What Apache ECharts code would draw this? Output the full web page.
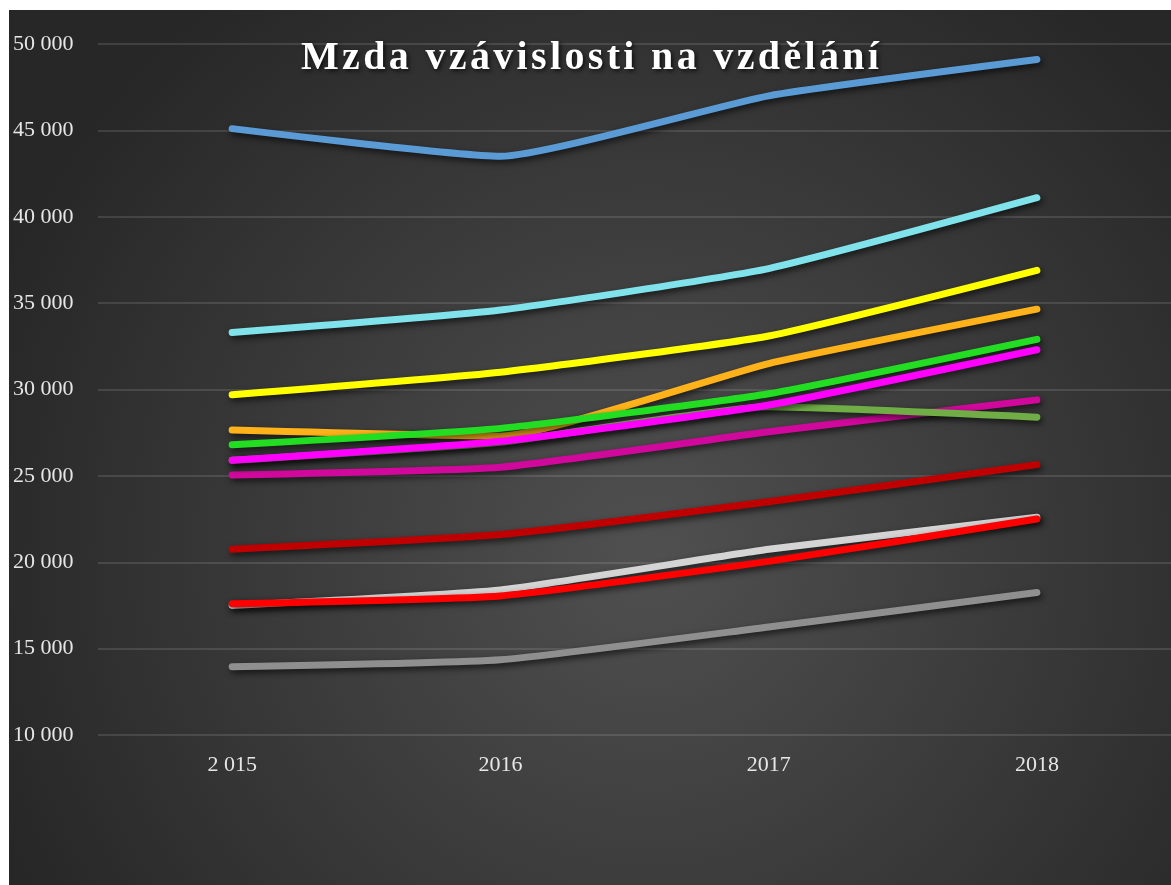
<!DOCTYPE html>
<html>
<head>
<meta charset="utf-8">
<script src="https://cdn.jsdelivr.net/npm/echarts@6/dist/echarts.min.js"></script>
<style>
  html, body { margin: 0; padding: 0; background: #ffffff; }
  #chart { position: absolute; left: 9px; top: 10px; width: 1162px; height: 875px; }
</style>
</head>
<body>
<div id="chart"></div>
<script>
const years = ["2 015", "2016", "2017", "2018"];

const blueVals = [45100, 43500, 47000, 49100];
const cyanVals = [33300, 34600, 37000, 41100];
const yellowVals = [29700, 31000, 33100, 36900];
const orangeVals = [27650, 27300, 31500, 34650];
const greenVals = [26800, 27750, 29750, 32900];
const darkMagentaVals = [25050, 25500, 27550, 29400];
const oliveVals = [25900, 26950, 29000, 28400];
const magentaVals = [25900, 27000, 29100, 32300];
const darkRedVals = [20750, 21600, 23500, 25650];
const lightGrayVals = [17500, 18400, 20750, 22600];
const redVals = [17600, 18050, 20050, 22500];
const grayVals = [13950, 14350, 16250, 18250];

const lines = [
  { data: blueVals, color: "#5b9bd5" },
  { data: cyanVals, color: "#80e2ea" },
  { data: yellowVals, color: "#ffff00" },
  { data: orangeVals, color: "#ffb21a" },
  { data: greenVals, color: "#22dd22" },
  { data: darkMagentaVals, color: "#d0089c" },
  { data: oliveVals, color: "#70ad47" },
  { data: magentaVals, color: "#ff00ff" },
  { data: darkRedVals, color: "#c00000" },
  { data: lightGrayVals, color: "#d4d4d4" },
  { data: redVals, color: "#ff0000" },
  { data: grayVals, color: "#8f8f8f" },
];

const chart = echarts.init(document.getElementById("chart"));

const titleText = "Mzda vzávislosti na vzdělání".split("").join("\u200A");

chart.setOption({
  backgroundColor: {
    type: "radial",
    x: 0.55,
    y: 0.62,
    r: 0.8,
    colorStops: [
      { offset: 0, color: "#505050" },
      { offset: 1, color: "#272727" },
    ],
  },
  title: {
    text: titleText,
    left: "center",
    top: 24,
    textStyle: {
      color: "#ffffff",
      fontFamily: "Liberation Serif",
      fontWeight: "bold",
      fontSize: 40,
      textShadowColor: "rgba(0,0,0,0.7)",
      textShadowBlur: 4,
      textShadowOffsetX: 2,
      textShadowOffsetY: 2,
    },
  },
  grid: { left: 89, right: -3, top: 34, bottom: 150, containLabel: false },
  xAxis: {
    type: "category",
    data: years,
    boundaryGap: true,
    axisLine: { show: false },
    axisTick: { show: false },
    axisLabel: {
      color: "#e6e6e6",
      fontFamily: "Liberation Serif",
      fontSize: 22,
      margin: 19,
    },
  },
  yAxis: {
    type: "value",
    min: 10000,
    max: 50000,
    interval: 5000,
    axisLine: { show: false },
    axisTick: { show: false },
    splitLine: { lineStyle: { color: "rgba(255,255,255,0.16)", width: 1.5 } },
    axisLabel: {
      color: "#e6e6e6",
      fontFamily: "Liberation Serif",
      fontSize: 22,
      align: "left",
      margin: 85,
      formatter: (v) => String(v).replace(/\B(?=(\d{3})+(?!\d))/g, " "),
    },
  },
  series: lines.map((l) => ({
    type: "line",
    data: l.data,
    smooth: 0.15,
    symbol: "none",
    silent: true,
    lineStyle: {
      color: l.color,
      width: 7,
      cap: "round",
      join: "round",
      shadowColor: "rgba(0,0,0,0.65)",
      shadowBlur: 6,
      shadowOffsetX: 2,
      shadowOffsetY: 3,
    },
  })),
});

window.addEventListener("resize", () => {
  chart.resize();
});
</script>
</body>
</html>
